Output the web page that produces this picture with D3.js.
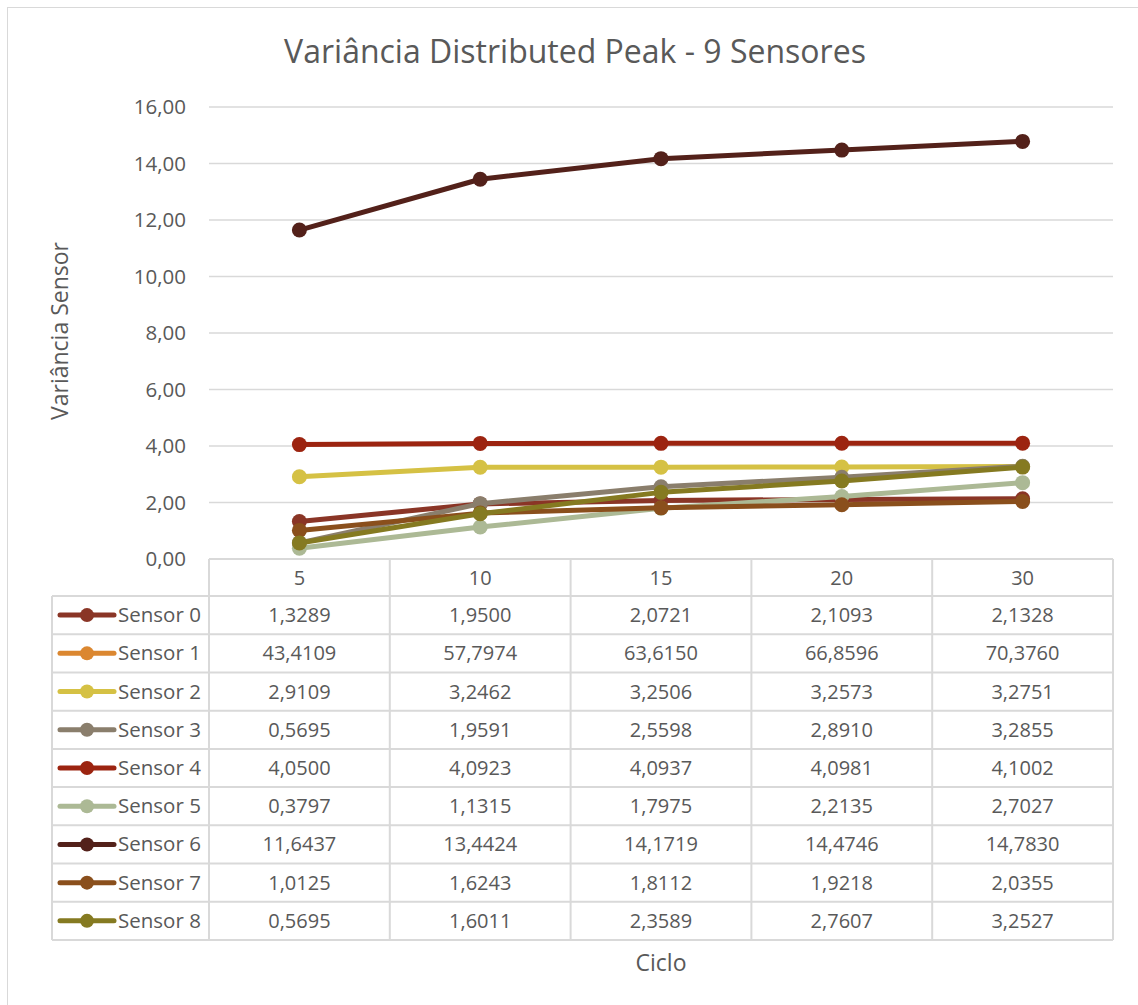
<!DOCTYPE html>
<html><head><meta charset="utf-8">
<script src="https://cdn.jsdelivr.net/npm/d3@7"></script>
<style>body{margin:0;background:#fff;}svg{display:block;font-family:"Open Sans","Liberation Sans",sans-serif;}</style>
</head><body><svg id="c" width="1138" height="1005"></svg>
<script>
const categories = ["5","10","15","20","30"];
const seriesNames = ["Sensor 0","Sensor 1","Sensor 2","Sensor 3","Sensor 4","Sensor 5","Sensor 6","Sensor 7","Sensor 8"];
const sensor0 = [1.3289,1.9500,2.0721,2.1093,2.1328];
const sensor1 = [43.4109,57.7974,63.6150,66.8596,70.3760];
const sensor2 = [2.9109,3.2462,3.2506,3.2573,3.2751];
const sensor3 = [0.5695,1.9591,2.5598,2.8910,3.2855];
const sensor4 = [4.0500,4.0923,4.0937,4.0981,4.1002];
const sensor5 = [0.3797,1.1315,1.7975,2.2135,2.7027];
const sensor6 = [11.6437,13.4424,14.1719,14.4746,14.7830];
const sensor7 = [1.0125,1.6243,1.8112,1.9218,2.0355];
const sensor8 = [0.5695,1.6011,2.3589,2.7607,3.2527];
const yTicks = [0,2,4,6,8,10,12,14,16];
const colors = ["#8a3526","#db8730","#d5c144","#8a7e6c","#9c2410","#acb995","#53211a","#8a4f1c","#857a21"];
const allValues = [sensor0,sensor1,sensor2,sensor3,sensor4,sensor5,sensor6,sensor7,sensor8];

const svg = d3.select("#c");
const fmt = v => v.toFixed(4).replace(".", ",");
const fmt2 = v => v.toFixed(2).replace(".", ",");
const L = 209, R = 1113, T = 107, B = 559;
const tableLeft = 52, headerBottom = 596, rowH = 38.22;
const grey = "#d9d9d9", textC = "#595959";

svg.append("rect").attr("x",7.5).attr("y",7.5).attr("width",1140).attr("height",1010)
  .attr("fill","none").attr("stroke","#d9d9d9").attr("stroke-width",1);

const x = d3.scaleBand().domain(categories).range([L,R]);
const y = d3.scaleLinear().domain([0,16]).range([B,T]);

// gridlines
svg.append("g").selectAll("line").data(yTicks.filter(d=>d>0)).join("line")
  .attr("x1",L).attr("x2",R).attr("y1",d=>y(d)).attr("y2",d=>y(d))
  .attr("stroke",grey).attr("stroke-width",1.3);

// y axis
const yAxis = d3.axisLeft(y).tickValues(yTicks).tickFormat(fmt2).tickSize(0).tickPadding(23);
const ya = svg.append("g").attr("transform",`translate(${L},0)`).call(yAxis);
ya.select(".domain").remove();
ya.selectAll("text").attr("fill",textC).style("font-size","20.5px").attr("font-family","'Open Sans',sans-serif");

// title
svg.append("text").attr("x",575).attr("y",63).attr("text-anchor","middle")
  .attr("fill",textC).style("font-size","32px").text("Variância Distributed Peak - 9 Sensores");
svg.append("text").attr("transform","translate(68,331) rotate(-90)").attr("text-anchor","middle")
  .attr("fill",textC).style("font-size","23px").text("Variância Sensor");
svg.append("text").attr("x",661).attr("y",971).attr("text-anchor","middle")
  .attr("fill",textC).style("font-size","23px").text("Ciclo");

// table
const tg = svg.append("g");
const nRows = seriesNames.length;
const tableBottom = headerBottom + nRows*rowH;
tg.append("line").attr("x1",L).attr("x2",R).attr("y1",B).attr("y2",B).attr("stroke",grey).attr("stroke-width",2);
const colEdges = categories.map(c=>x(c)).concat([R]);
colEdges.forEach(cx=>{
  tg.append("line").attr("x1",cx).attr("x2",cx).attr("y1",B).attr("y2",tableBottom).attr("stroke",grey).attr("stroke-width",2);
});
tg.append("line").attr("x1",tableLeft).attr("x2",tableLeft).attr("y1",headerBottom).attr("y2",tableBottom).attr("stroke",grey).attr("stroke-width",2);
d3.range(nRows+1).forEach(i=>{
  const yy = headerBottom + i*rowH;
  tg.append("line").attr("x1",tableLeft).attr("x2",R).attr("y1",yy).attr("y2",yy).attr("stroke",grey).attr("stroke-width",2);
});
tg.selectAll("text.cat").data(categories).join("text").attr("class","cat")
  .attr("x",d=>x(d)+x.bandwidth()/2).attr("y",(B+headerBottom)/2+7).attr("text-anchor","middle")
  .attr("fill",textC).style("font-size","20px").text(d=>d);

seriesNames.forEach((name,i)=>{
  const cy = headerBottom + i*rowH + rowH/2;
  tg.append("line").attr("x1",60).attr("x2",114).attr("y1",cy).attr("y2",cy)
    .attr("stroke",colors[i]).attr("stroke-width",5).attr("stroke-linecap","round");
  tg.append("circle").attr("cx",87).attr("cy",cy).attr("r",7).attr("fill",colors[i]);
  tg.append("text").attr("x",118).attr("y",cy+7).attr("fill",textC).style("font-size","20.5px").text(name);
  allValues[i].forEach((v,j)=>{
    tg.append("text").attr("x",x(categories[j])+x.bandwidth()/2).attr("y",cy+7).attr("text-anchor","middle")
      .attr("fill",textC).style("font-size","20px").text(fmt(v));
  });
});

// lines
svg.append("clipPath").attr("id","clip").append("rect").attr("x",L-20).attr("y",T-12).attr("width",R-L+40).attr("height",B-T+24);
const plot = svg.append("g").attr("clip-path","url(#clip)");
const line = d3.line().x((d,j)=>x(categories[j])+x.bandwidth()/2).y(d=>y(d));
allValues.forEach((vals,i)=>{
  if (d3.min(vals) > 16) return;
  const g = plot.append("g");
  g.append("path").attr("d",line(vals)).attr("fill","none").attr("stroke",colors[i]).attr("stroke-width",5).attr("stroke-linejoin","round");
  g.selectAll("circle").data(vals).join("circle")
    .attr("cx",(d,j)=>x(categories[j])+x.bandwidth()/2).attr("cy",d=>y(d)).attr("r",7.5).attr("fill",colors[i]);
});
</script></body></html>
